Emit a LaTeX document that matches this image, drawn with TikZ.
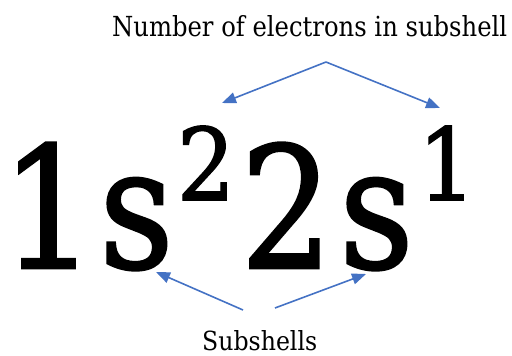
\documentclass[tikz,border=0pt]{standalone}
\usepackage{graphicx}
\usepackage{fontspec}
\setmainfont{DejaVu Serif}
\newfontfamily\bigfont[FakeBold=1.5]{DejaVu Serif}
\usetikzlibrary{arrows.meta}
\definecolor{arrowblue}{HTML}{4472C4}
\begin{document}
\begin{tikzpicture}[x=1pt,y=-1pt,
  glyph/.style={inner sep=0pt, anchor=base},
  label/.style={inner sep=0pt, anchor=base west},
  pointer/.style={draw=arrowblue, line width=1.6pt, -{Triangle[length=14pt,width=11pt]}}]
\useasboundingbox (0,0) rectangle (512,356);
% labels
\node[label] (top) at (112,36) {\resizebox{395pt}{21pt}{Number of electrons in subshell}};
\node[label] (bottom) at (202,350) {\resizebox{115pt}{20pt}{Subshells}};
% formula glyphs
\node[glyph] (one)  at (48.5,268) {\bigfont\fontsize{169}{169}\selectfont\scalebox{0.88}[1]{1}};
\node[glyph] (s1)   at (136.5,268) {\bigfont\fontsize{169}{169}\selectfont\scalebox{0.86}[1]{s}};
\node[glyph] (sup2) at (206,200) {\bigfont\fontsize{100}{100}\selectfont\scalebox{0.92}[1]{2}};
\node[glyph] (two)  at (286.5,268) {\bigfont\fontsize{169}{169}\selectfont\scalebox{0.86}[1]{2}};
\node[glyph] (s2)   at (376.5,268) {\bigfont\fontsize{169}{169}\selectfont\scalebox{0.86}[1]{s}};
\node[glyph] (sup1) at (447,200) {\bigfont\fontsize{100}{100}\selectfont\scalebox{0.92}[1]{1}};
% arrow end points
\coordinate (topsrc) at (326,62);
\coordinate (tipsupA) at (222,103);
\coordinate (tipsupB) at (440,108);
\coordinate (botsrcA) at (243,310);
\coordinate (botsrcB) at (275,308);
\coordinate (tipsA) at (156,272);
\coordinate (tipsB) at (366,274);
\draw[pointer] (topsrc) -- (tipsupA);
\draw[pointer] (topsrc) -- (tipsupB);
\draw[pointer] (botsrcA) -- (tipsA);
\draw[pointer] (botsrcB) -- (tipsB);
\end{tikzpicture}
\end{document}
